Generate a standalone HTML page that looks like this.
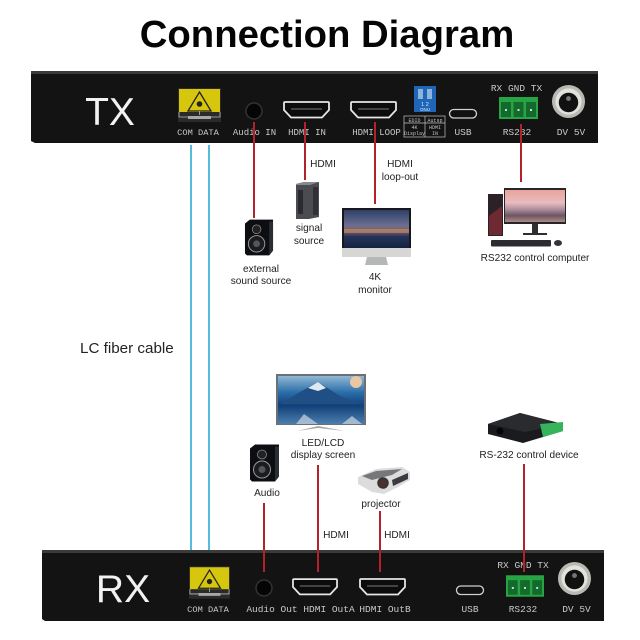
<!DOCTYPE html>
<html><head><meta charset="utf-8"><style>
html,body{margin:0;padding:0;background:#fff;width:640px;height:640px;overflow:hidden}
svg{display:block}
.s{font-family:"Liberation Sans",sans-serif;font-size:10.1px;fill:#222;text-anchor:middle}
.m{font-family:"Liberation Mono",monospace;font-size:9.500px;fill:#c9c9c9;text-anchor:middle}
.r{stroke:#b3212b;stroke-width:2;fill:none}
.b{stroke:#55bcdc;stroke-width:2;fill:none}
</style></head><body>
<svg width="640" height="640" viewBox="0 0 640 640" xmlns="http://www.w3.org/2000/svg">
<defs>
<linearGradient id="sky" x1="0" y1="0" x2="0" y2="1"><stop offset="0" stop-color="#8fb8d4"/><stop offset=".35" stop-color="#2a6ca8"/><stop offset=".62" stop-color="#123f78"/><stop offset="1" stop-color="#4c7fae"/></linearGradient>
<linearGradient id="city" x1="0" y1="0" x2="0" y2="1"><stop offset="0" stop-color="#2f3f66"/><stop offset=".4" stop-color="#6a6f92"/><stop offset=".55" stop-color="#8b5c58"/><stop offset=".7" stop-color="#24345a"/><stop offset="1" stop-color="#15223f"/></linearGradient>
<linearGradient id="pink" x1="0" y1="0" x2="0" y2="1"><stop offset="0" stop-color="#e8a49a"/><stop offset=".4" stop-color="#e8bcc0"/><stop offset=".62" stop-color="#a98a98"/><stop offset=".8" stop-color="#6b5560"/><stop offset="1" stop-color="#b08a88"/></linearGradient>
<symbol id="hdmi" viewBox="0 0 47 18" overflow="visible"><path d="M2 1H45Q46 1 46 2V9L39 16.500H8L1 9V2Q1 1 2 1Z" fill="#0c0c0c" stroke="#e6e6e6" stroke-width="1.800"/><path d="M8 8H39" stroke="#555" stroke-width="1.500"/></symbol>
<symbol id="laser" viewBox="0 0 43 34" overflow="visible"><rect x="0" y="0" width="43" height="34" fill="#2a2a2a"/><rect x="1" y="1" width="41" height="23" fill="#d6c60e"/><path d="M21.500 4L33 23H10Z" fill="none" stroke="#222" stroke-width="1.300"/><circle cx="21.500" cy="16" r="2.800" fill="#222"/><path d="M1 24V29H42V24M21.500 23V27" stroke="#bbb" stroke-width=".8" fill="none"/><rect x="10" y="28" width="23" height="3" fill="#a8a8a8"/></symbol>
<symbol id="green" viewBox="0 0 39 22"><rect width="39" height="22" fill="#27a544"/><rect x="2" y="5" width="10" height="15" fill="#14692c"/><rect x="14.500" y="5" width="10" height="15" fill="#14692c"/><rect x="27" y="5" width="10" height="15" fill="#14692c"/><rect x="6" y="12" width="2" height="2" fill="#bfe8c8"/><rect x="18.500" y="12" width="2" height="2" fill="#bfe8c8"/><rect x="31" y="12" width="2" height="2" fill="#bfe8c8"/></symbol>
<symbol id="dv" viewBox="0 0 36 36"><circle cx="18" cy="18" r="17" fill="#b9b9b4"/><circle cx="18" cy="18" r="13.500" fill="#e2e2dc"/><circle cx="18" cy="19" r="10" fill="#111"/><circle cx="18" cy="15" r="2.500" fill="#777"/></symbol>
<symbol id="spk" viewBox="0 0 31 39"><path d="M1 5L6 1H30V33L26 38H3L1 36Z" fill="#0c0e12"/><path d="M26 3H30V33L26 38Z" fill="#2a2d33"/><circle cx="13" cy="11" r="4.500" fill="#222" stroke="#8a8a8a" stroke-width=".8"/><circle cx="13" cy="26" r="8.500" fill="#1c1c20" stroke="#9a9a9a" stroke-width="1"/><circle cx="13" cy="26" r="3.500" fill="#53565c"/></symbol>
</defs>

<text x="327" y="47" text-anchor="middle" font-family="Liberation Sans,sans-serif" font-weight="bold" font-size="38.300" fill="#050505">Connection Diagram</text>

<!-- TX panel -->
<path d="M33 71H596Q598 71 598 74V143H35L31 141V74Q31 71 33 71Z" fill="#131313"/>
<rect x="31" y="71" width="567" height="3" fill="#3a3a3a"/>
<text x="110" y="125" text-anchor="middle" font-family="Liberation Sans,sans-serif" font-size="39" fill="#f2f2f2">TX</text>
<use href="#laser" x="178" y="88" width="43" height="34"/>
<circle cx="254" cy="111" r="8" fill="#050505" stroke="#333" stroke-width="1.500"/>
<use href="#hdmi" x="283" y="101" width="47" height="18"/>
<use href="#hdmi" x="350" y="101" width="47" height="18"/>
<rect x="414" y="86" width="22" height="26" fill="#1f66b8"/>
<rect x="418" y="89" width="5" height="10" fill="#8fb4dc"/><rect x="427" y="89" width="5" height="10" fill="#8fb4dc"/>
<text x="425" y="106" text-anchor="middle" font-family="Liberation Sans,sans-serif" font-size="5.500" fill="#dfe9f5">1 2</text>
<text x="425" y="111" text-anchor="middle" font-family="Liberation Sans,sans-serif" font-size="4.500" fill="#dfe9f5">ONU</text>
<g fill="none" stroke="#c4c4c4" stroke-width=".7"><rect x="404" y="116" width="41" height="21"/><path d="M404 123H445M425 116V137"/></g>
<g font-family="Liberation Mono,monospace" font-size="5" fill="#c4c4c4" text-anchor="middle">
<text x="414.500" y="122">EDID</text><text x="435" y="122">Autsp</text>
<text x="414.500" y="129">4K</text><text x="414.500" y="135">Display</text>
<text x="435" y="129">HDMI</text><text x="435" y="135">IN</text></g>
<rect x="449.500" y="109.500" width="27" height="8.500" rx="4.200" fill="#111" stroke="#cfcfcf" stroke-width="1.300"/>
<use href="#green" x="499" y="97" width="39" height="22"/>
<use href="#dv" x="551" y="84" width="35" height="35"/>
<text class="m" x="198" y="135" style="font-size:8.700px">COM DATA</text>
<text class="m" x="254.500" y="135" style="font-size:9px">Audio IN</text>
<text class="m" x="307" y="135" style="font-size:9px">HDMI IN</text>
<text class="m" x="376.500" y="135" style="font-size:9px">HDMI LOOP</text>
<text class="m" x="463" y="135">USB</text>
<text class="m" x="517" y="135">RS232</text>
<text class="m" x="571" y="135">DV 5V</text>
<text class="m" x="516.500" y="91">RX GND TX</text>

<!-- RX panel -->
<path d="M44 550H602Q604 550 604 553V621H45L42 619V553Q42 550 44 550Z" fill="#131313"/>
<rect x="42" y="550" width="562" height="3" fill="#3a3a3a"/>
<text x="123" y="602" text-anchor="middle" font-family="Liberation Sans,sans-serif" font-size="39" fill="#f2f2f2">RX</text>
<use href="#laser" x="189" y="565" width="41" height="35"/>
<circle cx="264" cy="588" r="8" fill="#050505" stroke="#333" stroke-width="1.500"/>
<use href="#hdmi" x="292" y="578" width="46" height="18"/>
<use href="#hdmi" x="359" y="578" width="47" height="18"/>
<rect x="456.500" y="586" width="27" height="8.500" rx="4.200" fill="#111" stroke="#cfcfcf" stroke-width="1.300"/>
<use href="#green" x="506" y="575" width="38" height="22"/>
<use href="#dv" x="557" y="561" width="35" height="35"/>
<text class="m" x="208" y="612" style="font-size:8.700px">COM DATA</text>
<text class="m" x="300.500" y="612">Audio Out HDMI OutA</text>
<text class="m" x="385" y="612">HDMI OutB</text>
<text class="m" x="470" y="612">USB</text>
<text class="m" x="523" y="612">RS232</text>
<text class="m" x="576.500" y="612">DV 5V</text>
<text class="m" x="523" y="568">RX GND TX</text>

<!-- fiber cables -->
<path class="b" d="M191 145V550M209 145V550"/>

<!-- red connectors -->
<path class="r" d="M254 122V218M305 122V180M375 122V204M521 124V182"/>
<path class="r" d="M264 503V572M318 465V572M380 511V572M524 464V572"/>

<!-- labels -->
<text class="s" x="323" y="167">HDMI</text>
<text class="s" x="400" y="167">HDMI</text>
<text class="s" x="400" y="180">loop-out</text>
<text class="s" x="309" y="231">signal</text>
<text class="s" x="309" y="244">source</text>
<text class="s" x="261" y="272">external</text>
<text class="s" x="261" y="284">sound source</text>
<text class="s" x="375" y="280">4K</text>
<text class="s" x="375" y="293">monitor</text>
<text class="s" x="535" y="261">RS232 control computer</text>
<text x="80" y="353" font-family="Liberation Sans,sans-serif" font-size="15.200" fill="#222">LC fiber cable</text>
<text class="s" x="323" y="446">LED/LCD</text>
<text class="s" x="323" y="458">display screen</text>
<text class="s" x="267" y="496">Audio</text>
<text class="s" x="381" y="507">projector</text>
<text class="s" x="336" y="538">HDMI</text>
<text class="s" x="397" y="538">HDMI</text>
<text class="s" x="529" y="458">RS-232 control device</text>

<!-- TX devices -->
<use href="#spk" x="244" y="218" width="30" height="39"/>
<path d="M296 184L304 182H319V217L309 219H296Z" fill="#4a4c52"/>
<path d="M296 184L304 182H319L310 185H296Z" fill="#85888d"/>
<rect x="298" y="190" width="5" height="24" fill="#2a2b30"/>
<rect x="313" y="187" width="5" height="28" fill="#303136"/>

<rect x="342" y="208" width="69" height="42" fill="#16181e"/>
<rect x="344" y="210" width="65" height="38" fill="url(#city)"/>
<path d="M344 229H409V233H344Z" fill="#b38a72" opacity=".7"/>
<rect x="342" y="248" width="69" height="9" fill="#d6d6d4"/>
<path d="M367 257H386L388 265H365Z" fill="#b5b8b6"/>

<rect x="488" y="194" width="15" height="42" fill="#2b2126"/>
<path d="M489 216L502 206V235H489Z" fill="#6e2a30"/>
<rect x="504" y="188" width="62" height="36" fill="#26252a"/>
<rect x="505" y="190" width="60" height="32" fill="url(#pink)"/>
<rect x="532" y="224" width="6" height="9" fill="#2e2e32"/>
<rect x="523" y="233" width="24" height="2" fill="#2e2e32"/>
<rect x="491" y="240" width="60" height="6.500" rx="1" fill="#2c2c30"/>
<ellipse cx="558" cy="243" rx="4" ry="3" fill="#333338"/>

<!-- RX devices -->
<rect x="276" y="374" width="90" height="51" fill="#6b7076"/>
<rect x="278" y="376" width="86" height="48" fill="url(#sky)"/>
<path d="M280 404L300 392L318 382L340 396L362 404Z" fill="#204f86"/>
<path d="M308 388L318 382L326 388L318 391Z" fill="#dfe9f2"/>
<path d="M296 424L304 414L318 424ZM342 424L352 416L362 424Z" fill="#c9d7e4" opacity=".7"/>
<circle cx="356" cy="382" r="6" fill="#e8c7a2"/>
<path d="M297 431L318 426L345 431L318 428Z" fill="#a8aaa8"/>
<use href="#spk" x="249" y="443" width="31" height="40"/>
<path d="M358 477L376 469L402 467L410 472V480L398 487L384 494L372 492L358 484Z" fill="#dcdcdc"/>
<path d="M362 476L376 471L402 469L392 475L372 480Z" fill="#77777b"/>
<path d="M392 480L408 473V479L393 486Z" fill="#3a3a40"/>
<circle cx="383" cy="483" r="5" fill="#49302e" stroke="#333" stroke-width="1.500"/>
<path d="M488 424L520 413L563 424V431L523 443L488 434Z" fill="#1a1b1e"/>
<path d="M488 424L520 413L563 424L525 432Z" fill="#2a2b2e"/>
<path d="M540 424L563 422V431L543 437Z" fill="#36b45c"/>
<circle cx="500" cy="431" r="3.500" fill="#050505"/>
</svg>
</body></html>
